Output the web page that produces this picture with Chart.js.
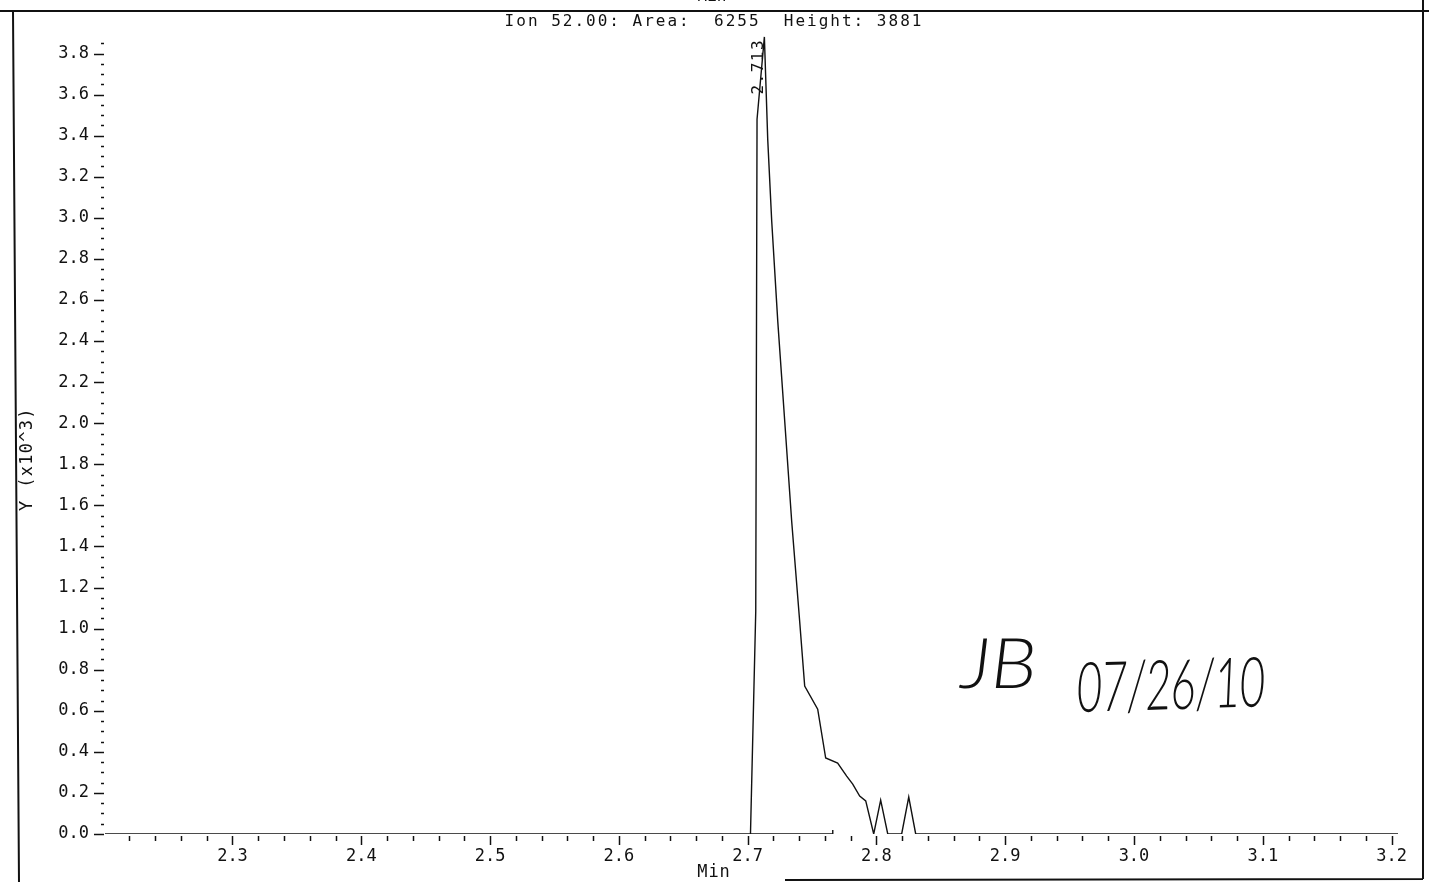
<!DOCTYPE html>
<html>
<head>
<meta charset="utf-8">
<title>Ion 52.00</title>
<script src="https://cdn.jsdelivr.net/npm/chart.js@4.4.1/dist/chart.umd.min.js"></script>
<style>
html, body { margin: 0; padding: 0; background: #fff; }
canvas { display: block; }
</style>
</head>
<body>
<canvas id="ionChart" width="1429" height="882"></canvas>
<script>
// Extracted ion trace, retention time in minutes vs abundance
const retentionTimes = [2.201, 2.7022, 2.7063, 2.7073, 2.713, 2.7156, 2.7187, 2.7234, 2.7288, 2.7342,
    2.7404, 2.7443, 2.7544, 2.7606, 2.7699, 2.7769, 2.7816, 2.787, 2.7917, 2.7979,
    2.8033, 2.8088, 2.8196, 2.8251, 2.8305, 3.205];
const abundance = [0, 0, 1085, 3480, 3881, 3382, 2983, 2496, 2010, 1523,
    1036, 720, 608, 370, 345, 282, 243, 185, 161, 0,
    165, 0, 0, 180, 0, 0];

// Integration result for the peak
const ionMass = '52.00';
const peakArea = 6255;
const peakHeight = 3881;
const peakApex = 2.713;
const peakStart = 2.7022;
const peakEnd = 2.7661;

const xTickLabels = ['2.3', '2.4', '2.5', '2.6', '2.7', '2.8', '2.9', '3.0', '3.1', '3.2'];
const yTickLabels = ['0.0', '0.2', '0.4', '0.6', '0.8', '1.0', '1.2', '1.4', '1.6', '1.8',
    '2.0', '2.2', '2.4', '2.6', '2.8', '3.0', '3.2', '3.4', '3.6', '3.8'];
const xMinorStep = 0.02;
const yMinorStep = 50;

const ink = '#111';
const mono = '"DejaVu Sans Mono", "Liberation Mono", monospace';

// Axis tick marks, frame and the printed/handwritten texts
const plotterMarks = {
    id: 'plotterMarks',
    afterDraw(chart) {
        const c = chart.ctx;
        const xs = chart.scales.x;
        const ys = chart.scales.y;
        const left = chart.chartArea.left;
        const y0 = ys.getPixelForValue(0);

        c.save();
        c.strokeStyle = ink;
        c.fillStyle = ink;
        c.lineWidth = 1.5;

        // x ticks below the baseline
        const first = Math.ceil(xs.min / xMinorStep - 1e-6);
        const last = Math.floor(xs.max / xMinorStep + 1e-6);
        for (let i = first; i <= last; i++) {
            const px = Math.round(xs.getPixelForValue(i * xMinorStep)) + 0.5;
            const len = i % 5 === 0 ? 9 : 5;
            c.beginPath();
            c.moveTo(px, y0 + 2);
            c.lineTo(px, y0 + 2 + len);
            c.stroke();
        }

        // y ticks, dotted axis look
        for (let j = 0; j * yMinorStep < ys.max; j++) {
            const py = Math.round(ys.getPixelForValue(j * yMinorStep)) + 0.5;
            const len = j % 4 === 0 ? 10 : 3;
            c.beginPath();
            c.moveTo(left - 1 - len, py);
            c.lineTo(left - 1, py);
            c.stroke();
        }

        // frame
        c.lineWidth = 2;
        c.beginPath();
        c.moveTo(0, 11); c.lineTo(1429, 11);
        c.moveTo(13, 11); c.lineTo(19, 882);
        c.moveTo(1423, 0); c.lineTo(1423, 879);
        c.moveTo(785, 880); c.lineTo(1423, 879);
        c.stroke();

        c.textAlign = 'center';
        c.font = '16px ' + mono;

        // remains of the panel above
        c.textBaseline = 'bottom';
        c.fillText('Min', 712, 5);

        c.textBaseline = 'middle';
        c.letterSpacing = '2px';
        c.fillText('Ion ' + ionMass + ': Area:  ' + peakArea + '  Height: ' + peakHeight, 714, 22);

        c.font = '17px ' + mono;
        c.letterSpacing = '1px';
        c.fillText('Min', 714, 873);

        // y axis title
        c.save();
        c.translate(28, 459);
        c.rotate(-Math.PI / 2);
        c.letterSpacing = '1.3px';
        c.fillText('Y (x10^3)', 0, 0);
        c.restore();

        // retention time printed along the apex
        c.save();
        c.font = '16px ' + mono;
        c.translate(xs.getPixelForValue(peakApex), ys.getPixelForValue(peakHeight));
        c.rotate(-Math.PI / 2);
        c.letterSpacing = '1.5px';
        c.textAlign = 'right';
        c.textBaseline = 'alphabetic';
        c.fillText(peakApex.toFixed(3), -2, -1);
        c.restore();

        // reviewer initials and date
        c.letterSpacing = '0px';
        c.textAlign = 'left';
        c.textBaseline = 'alphabetic';
        c.font = '300 56px Lato, "Open Sans", sans-serif';
        c.save();
        c.translate(958, 688);
        c.transform(1.3, 0, -0.15, 1.25, 0, 0);
        c.fillText('JB', 0, 0);
        c.restore();
        c.font = '300 42px Lato, "Open Sans", sans-serif';
        c.save();
        c.translate(1076, 712);
        c.rotate(-0.03);
        c.transform(1.03, 0, -0.12, 1.65, 0, 0);
        c.fillText('07/26/10', 0, 0);
        c.restore();

        c.restore();
    }
};

const ctx = document.getElementById('ionChart').getContext('2d');

const ionChart = new Chart(ctx, {
    type: 'line',
    data: {
        datasets: [
            {
                data: retentionTimes.map((t, i) => ({ x: t, y: abundance[i] })),
                borderColor: ink,
                borderWidth: 1.4,
                pointRadius: 0,
                tension: 0,
                fill: false
            },
            {
                // integration baseline with end marker
                data: [{ x: peakStart, y: 0 }, { x: peakEnd, y: 0 }],
                borderColor: ink,
                borderWidth: 1.4,
                pointRadius: [0, 4],
                pointStyle: 'line',
                pointRotation: 90,
                pointBorderColor: ink,
                pointBorderWidth: 1.4,
                fill: false
            }
        ]
    },
    options: {
        responsive: false,
        animation: false,
        layout: { padding: { left: 18, right: 31, top: 33, bottom: 0 } },
        plugins: {
            legend: { display: false },
            tooltip: { enabled: false },
            title: { display: false }
        },
        scales: {
            x: {
                type: 'linear',
                min: 2.201,
                max: 3.205,
                grid: { display: false, drawTicks: false },
                border: { display: false },
                afterBuildTicks: scale => {
                    scale.ticks = xTickLabels.map(s => ({ value: parseFloat(s) }));
                },
                afterFit: scale => { scale.height = 48; },
                ticks: {
                    callback: v => v.toFixed(1),
                    font: { family: mono, size: 17 },
                    color: ink,
                    padding: 12,
                    maxRotation: 0,
                    autoSkip: false
                }
            },
            y: {
                min: 0,
                max: 3900,
                grid: { display: false, drawTicks: false },
                border: { display: false },
                afterBuildTicks: scale => {
                    scale.ticks = yTickLabels.map(s => ({ value: parseFloat(s) * 1000 }));
                },
                afterFit: scale => { scale.width = 87; },
                ticks: {
                    callback: v => (v / 1000).toFixed(1),
                    font: { family: mono, size: 17 },
                    color: ink,
                    padding: 16,
                    autoSkip: false
                }
            }
        }
    },
    plugins: [plotterMarks]
});
</script>
</body>
</html>
